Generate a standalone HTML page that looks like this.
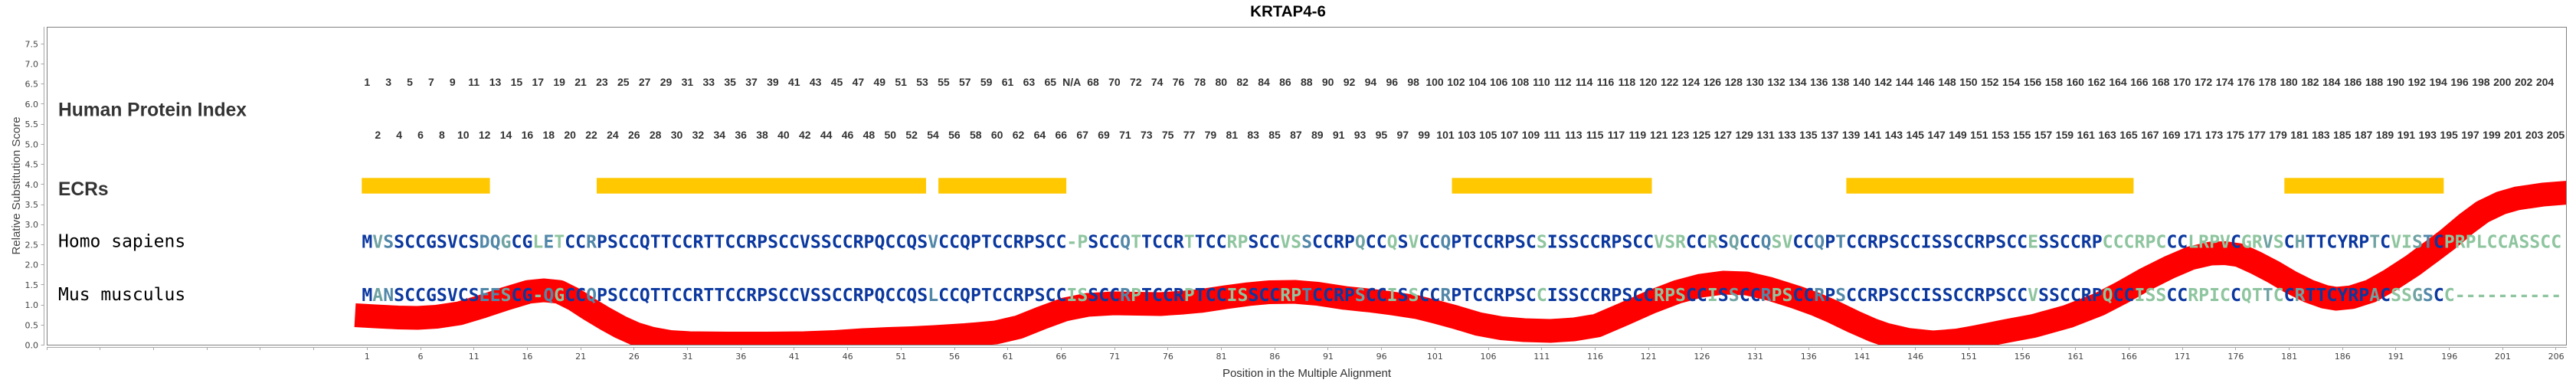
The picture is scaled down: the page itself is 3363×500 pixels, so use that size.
<!DOCTYPE html>
<html><head><meta charset="utf-8">
<style>
html,body{margin:0;padding:0;background:#fff}
#c{position:relative;width:3363px;height:500px;overflow:hidden;background:#fff}
svg{position:absolute;left:0;top:0}
.b{fill:#0b389f}.t{fill:#6fa2a2}.g{fill:#8ec59f}.s{fill:#5187a8}
.seq{font-family:"DejaVu Sans Mono",monospace;font-weight:bold;font-size:23.155px}
.row{position:absolute;display:flex;font-family:"Liberation Sans",Arial,sans-serif;font-weight:bold;font-size:14px;color:#333;line-height:20px;white-space:nowrap}
.row i{font-style:normal;flex:0 0 27.8814px;width:27.8814px;text-align:center}
.xt{position:absolute;display:flex;font-family:"DejaVu Sans",sans-serif;font-size:11px;color:#444;line-height:16px;white-space:nowrap;left:444.45px;top:458px}
.xt i{font-style:normal;flex:0 0 69.7035px;width:69.7035px;text-align:center}
</style></head>
<body><div id="c">
<svg width="3363" height="500" viewBox="0 0 3363 500" xmlns="http://www.w3.org/2000/svg">
<defs><clipPath id="pc"><rect x="61" y="35" width="3290" height="415"/></clipPath></defs>
<text x="1681.5" y="21.7" text-anchor="middle" font-family="Liberation Sans, Arial, sans-serif" font-weight="bold" font-size="20.5" fill="#000">KRTAP4-6</text>
<g fill="#ffc800">
<rect x="472.3" y="232.3" width="167.3" height="20.4"/>
<rect x="779" y="232.3" width="430" height="20.4"/>
<rect x="1225.1" y="232.3" width="167" height="20.4"/>
<rect x="1895.5" y="232.3" width="261" height="20.4"/>
<rect x="2410.4" y="232.3" width="375" height="20.4"/>
<rect x="2982.3" y="232.3" width="208" height="20.4"/>
</g>
<g clip-path="url(#pc)">
<polyline fill="none" stroke="#ff0000" stroke-width="31" stroke-linejoin="round" stroke-linecap="butt" points="463.5,411.5 490,413 520,414.5 545,415 570,413.5 600,409 630,400 660,390 690,381 710,379 730,381 750,391 770,404 790,416 810,427 830,436 850,442 875,446.5 900,448 950,448.5 1000,448.5 1050,448 1090,446.5 1127,444 1160,442.5 1190,441.5 1220,440 1260,437.5 1300,434 1330,427 1360,415 1390,404 1420,398 1454,396 1485,396.5 1515,397 1545,395 1567,393 1600,388 1630,384 1657,381.5 1690,381 1720,383.5 1756,389 1790,392.5 1817,396 1850,401 1874,407 1900,414 1930,423 1960,428.5 1990,431 2024,432 2055,430 2085,425 2120,410 2156,394 2190,381 2220,373 2250,369 2280,370 2310,377 2345,388 2370,397 2392,406.5 2420,420 2445,431 2462,437 2490,443.5 2524,447 2555,444.5 2580,440 2620,432 2655,425.5 2700,413 2741,397 2770,382 2800,365 2832,349 2860,337 2886,331 2905,330.5 2923,333 2945,343 2968,355 2990,368 3014,380 3035,387.5 3050,390 3070,388 3095,380 3120,366 3150,346.5 3175,328 3195,313 3220,292 3241,276.5 3265,265 3286,259 3320,254 3370,250"/>
</g>
<rect x="61.5" y="35.5" width="3289" height="415" fill="none" stroke="#808080" stroke-width="1"/>
<line x1="57.5" y1="35" x2="57.5" y2="451" stroke="#a8a8a8" stroke-width="1"/>
<line x1="61" y1="453.5" x2="3351" y2="453.5" stroke="#a8a8a8" stroke-width="1"/>
<path stroke="#a8a8a8" stroke-width="1" fill="none" d="M53.5 450.5h4M53.5 424.5h4M53.5 398.5h4M53.5 371.5h4M53.5 345.5h4M53.5 319.5h4M53.5 293.5h4M53.5 267.5h4M53.5 240.5h4M53.5 214.5h4M53.5 188.5h4M53.5 162.5h4M53.5 135.5h4M53.5 109.5h4M53.5 83.5h4M53.5 57.5h4"/>
<path stroke="#a8a8a8" stroke-width="1" fill="none" d="M61.5 453v4M130.5 453v4M200.5 453v4M270.5 453v4M339.5 453v4M409.5 453v4M479.5 453v4M549.5 453v4M618.5 453v4M688.5 453v4M758.5 453v4M827.5 453v4M897.5 453v4M967.5 453v4M1036.5 453v4M1106.5 453v4M1176.5 453v4M1246.5 453v4M1315.5 453v4M1385.5 453v4M1455.5 453v4M1524.5 453v4M1594.5 453v4M1664.5 453v4M1733.5 453v4M1803.5 453v4M1873.5 453v4M1943.5 453v4M2012.5 453v4M2082.5 453v4M2152.5 453v4M2221.5 453v4M2291.5 453v4M2361.5 453v4M2430.5 453v4M2500.5 453v4M2570.5 453v4M2640.5 453v4M2709.5 453v4M2779.5 453v4M2849.5 453v4M2918.5 453v4M2988.5 453v4M3058.5 453v4M3127.5 453v4M3197.5 453v4M3267.5 453v4M3336.5 453v4"/>
<g font-family="DejaVu Sans, sans-serif" font-size="11" fill="#444" text-anchor="end">
<text x="50" y="454.5">0.0</text><text x="50" y="428.3">0.5</text><text x="50" y="402.1">1.0</text><text x="50" y="375.9">1.5</text><text x="50" y="349.6">2.0</text><text x="50" y="323.4">2.5</text><text x="50" y="297.2">3.0</text><text x="50" y="271">3.5</text><text x="50" y="244.8">4.0</text><text x="50" y="218.6">4.5</text><text x="50" y="192.4">5.0</text><text x="50" y="166.1">5.5</text><text x="50" y="139.9">6.0</text><text x="50" y="113.7">6.5</text><text x="50" y="87.5">7.0</text><text x="50" y="61.3">7.5</text>
</g>
<text transform="translate(26,242.5) rotate(-90)" text-anchor="middle" font-family="Liberation Sans, Arial, sans-serif" font-size="15" fill="#444">Relative Substitution Score</text>
<text x="1706" y="492" text-anchor="middle" font-family="Liberation Sans, Arial, sans-serif" font-size="15" fill="#333">Position in the Multiple Alignment</text>
<g font-family="Liberation Sans, Arial, sans-serif" font-size="24.6" font-weight="bold" fill="#333">
<text x="76" y="151.5">Human Protein Index</text>
<text x="76" y="255">ECRs</text>
</g>
<g font-family="DejaVu Sans Mono, monospace" font-size="23" fill="#000">
<text x="76" y="322.5">Homo sapiens</text>
<text x="76" y="392">Mus musculus</text>
</g>
<text class="seq" x="472.33" y="323.5" textLength="2871.8" lengthAdjust="spacing"><tspan class="b">M</tspan><tspan class="t">V</tspan><tspan class="s">S</tspan><tspan class="b">SCCGSVCS</tspan><tspan class="s">DQ</tspan><tspan class="t">G</tspan><tspan class="b">CG</tspan><tspan class="g">L</tspan><tspan class="s">E</tspan><tspan class="g">T</tspan><tspan class="b">CC</tspan><tspan class="s">R</tspan><tspan class="b">PSCCQTTCCRTTCCRPSCCVSSCCRPQCCQS</tspan><tspan class="s">V</tspan><tspan class="b">CCQPTCCRPSCC</tspan><tspan class="g">-P</tspan><tspan class="b">SCC</tspan><tspan class="s">Q</tspan><tspan class="g">T</tspan><tspan class="b">TCCR</tspan><tspan class="g">T</tspan><tspan class="b">TCC</tspan><tspan class="g">RP</tspan><tspan class="b">SCC</tspan><tspan class="g">VS</tspan><tspan class="s">S</tspan><tspan class="b">CCRP</tspan><tspan class="t">Q</tspan><tspan class="b">CC</tspan><tspan class="g">Q</tspan><tspan class="b">S</tspan><tspan class="g">V</tspan><tspan class="b">CC</tspan><tspan class="s">Q</tspan><tspan class="b">PTCCRPSC</tspan><tspan class="g">S</tspan><tspan class="b">ISSCCRPSCC</tspan><tspan class="g">VSR</tspan><tspan class="b">CC</tspan><tspan class="g">R</tspan><tspan class="b">S</tspan><tspan class="t">Q</tspan><tspan class="b">CC</tspan><tspan class="s">Q</tspan><tspan class="g">SV</tspan><tspan class="b">CC</tspan><tspan class="s">Q</tspan><tspan class="b">P</tspan><tspan class="s">T</tspan><tspan class="b">CCRPSCCISSCCRPSCC</tspan><tspan class="g">E</tspan><tspan class="b">SSCCRP</tspan><tspan class="g">CCCRPC</tspan><tspan class="b">CC</tspan><tspan class="g">LRPV</tspan><tspan class="b">C</tspan><tspan class="g">GR</tspan><tspan class="t">V</tspan><tspan class="g">S</tspan><tspan class="b">C</tspan><tspan class="t">H</tspan><tspan class="b">TTCYRP</tspan><tspan class="t">T</tspan><tspan class="b">C</tspan><tspan class="g">VI</tspan><tspan class="t">S</tspan><tspan class="s">T</tspan><tspan class="b">C</tspan><tspan class="g">PRPLCCASSCC</tspan></text>
<text class="seq" x="472.33" y="393" textLength="2871.8" lengthAdjust="spacing"><tspan class="b">M</tspan><tspan class="t">A</tspan><tspan class="s">N</tspan><tspan class="b">SCCGSVCS</tspan><tspan class="s">EE</tspan><tspan class="t">S</tspan><tspan class="b">CG</tspan><tspan class="g">-</tspan><tspan class="s">Q</tspan><tspan class="g">G</tspan><tspan class="b">CC</tspan><tspan class="s">Q</tspan><tspan class="b">PSCCQTTCCRTTCCRPSCCVSSCCRPQCCQS</tspan><tspan class="s">L</tspan><tspan class="b">CCQPTCCRPSCC</tspan><tspan class="g">IS</tspan><tspan class="b">SCC</tspan><tspan class="s">R</tspan><tspan class="g">P</tspan><tspan class="b">TCCR</tspan><tspan class="g">P</tspan><tspan class="b">TCC</tspan><tspan class="g">IS</tspan><tspan class="b">SCC</tspan><tspan class="g">RP</tspan><tspan class="s">T</tspan><tspan class="b">CCRP</tspan><tspan class="t">S</tspan><tspan class="b">CC</tspan><tspan class="g">I</tspan><tspan class="b">S</tspan><tspan class="g">S</tspan><tspan class="b">CC</tspan><tspan class="s">R</tspan><tspan class="b">PTCCRPSC</tspan><tspan class="g">C</tspan><tspan class="b">ISSCCRPSCC</tspan><tspan class="g">RPS</tspan><tspan class="b">CC</tspan><tspan class="g">I</tspan><tspan class="b">S</tspan><tspan class="t">S</tspan><tspan class="b">CC</tspan><tspan class="s">R</tspan><tspan class="g">PS</tspan><tspan class="b">CC</tspan><tspan class="s">R</tspan><tspan class="b">P</tspan><tspan class="s">S</tspan><tspan class="b">CCRPSCCISSCCRPSCC</tspan><tspan class="g">V</tspan><tspan class="b">SSCCRP</tspan><tspan class="g">Q</tspan><tspan class="b">CC</tspan><tspan class="g">ISS</tspan><tspan class="b">CC</tspan><tspan class="g">RPIC</tspan><tspan class="b">C</tspan><tspan class="g">QT</tspan><tspan class="t">T</tspan><tspan class="g">C</tspan><tspan class="b">C</tspan><tspan class="t">R</tspan><tspan class="b">TTCYRP</tspan><tspan class="t">A</tspan><tspan class="b">C</tspan><tspan class="g">SS</tspan><tspan class="t">G</tspan><tspan class="s">S</tspan><tspan class="b">C</tspan><tspan class="g">C----------</tspan></text>
</svg>

<div class="row" style="left:465.36px;top:96.9px"><i>1</i><i>3</i><i>5</i><i>7</i><i>9</i><i>11</i><i>13</i><i>15</i><i>17</i><i>19</i><i>21</i><i>23</i><i>25</i><i>27</i><i>29</i><i>31</i><i>33</i><i>35</i><i>37</i><i>39</i><i>41</i><i>43</i><i>45</i><i>47</i><i>49</i><i>51</i><i>53</i><i>55</i><i>57</i><i>59</i><i>61</i><i>63</i><i>65</i><i>N/A</i><i>68</i><i>70</i><i>72</i><i>74</i><i>76</i><i>78</i><i>80</i><i>82</i><i>84</i><i>86</i><i>88</i><i>90</i><i>92</i><i>94</i><i>96</i><i>98</i><i>100</i><i>102</i><i>104</i><i>106</i><i>108</i><i>110</i><i>112</i><i>114</i><i>116</i><i>118</i><i>120</i><i>122</i><i>124</i><i>126</i><i>128</i><i>130</i><i>132</i><i>134</i><i>136</i><i>138</i><i>140</i><i>142</i><i>144</i><i>146</i><i>148</i><i>150</i><i>152</i><i>154</i><i>156</i><i>158</i><i>160</i><i>162</i><i>164</i><i>166</i><i>168</i><i>170</i><i>172</i><i>174</i><i>176</i><i>178</i><i>180</i><i>182</i><i>184</i><i>186</i><i>188</i><i>190</i><i>192</i><i>194</i><i>196</i><i>198</i><i>200</i><i>202</i><i>204</i></div>

<div class="row" style="left:479.3px;top:166.2px"><i>2</i><i>4</i><i>6</i><i>8</i><i>10</i><i>12</i><i>14</i><i>16</i><i>18</i><i>20</i><i>22</i><i>24</i><i>26</i><i>28</i><i>30</i><i>32</i><i>34</i><i>36</i><i>38</i><i>40</i><i>42</i><i>44</i><i>46</i><i>48</i><i>50</i><i>52</i><i>54</i><i>56</i><i>58</i><i>60</i><i>62</i><i>64</i><i>66</i><i>67</i><i>69</i><i>71</i><i>73</i><i>75</i><i>77</i><i>79</i><i>81</i><i>83</i><i>85</i><i>87</i><i>89</i><i>91</i><i>93</i><i>95</i><i>97</i><i>99</i><i>101</i><i>103</i><i>105</i><i>107</i><i>109</i><i>111</i><i>113</i><i>115</i><i>117</i><i>119</i><i>121</i><i>123</i><i>125</i><i>127</i><i>129</i><i>131</i><i>133</i><i>135</i><i>137</i><i>139</i><i>141</i><i>143</i><i>145</i><i>147</i><i>149</i><i>151</i><i>153</i><i>155</i><i>157</i><i>159</i><i>161</i><i>163</i><i>165</i><i>167</i><i>169</i><i>171</i><i>173</i><i>175</i><i>177</i><i>179</i><i>181</i><i>183</i><i>185</i><i>187</i><i>189</i><i>191</i><i>193</i><i>195</i><i>197</i><i>199</i><i>201</i><i>203</i><i>205</i></div>

<div class="xt"><i>1</i><i>6</i><i>11</i><i>16</i><i>21</i><i>26</i><i>31</i><i>36</i><i>41</i><i>46</i><i>51</i><i>56</i><i>61</i><i>66</i><i>71</i><i>76</i><i>81</i><i>86</i><i>91</i><i>96</i><i>101</i><i>106</i><i>111</i><i>116</i><i>121</i><i>126</i><i>131</i><i>136</i><i>141</i><i>146</i><i>151</i><i>156</i><i>161</i><i>166</i><i>171</i><i>176</i><i>181</i><i>186</i><i>191</i><i>196</i><i>201</i><i>206</i></div>
</div></body></html>
